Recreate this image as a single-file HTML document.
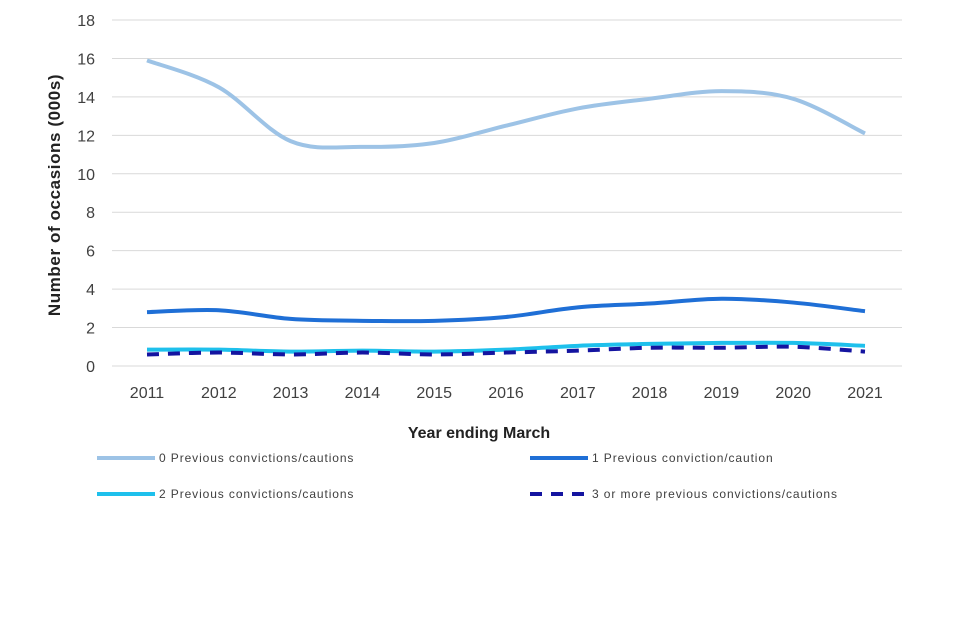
<!DOCTYPE html>
<html><head><meta charset="utf-8"><style>
body{margin:0;background:#fff;}
svg{display:block;font-family:"Liberation Sans",sans-serif;}
</style></head><body>
<svg id="c" width="960" height="640"></svg>
<script>
const years=["2011","2012","2013","2014","2015","2016","2017","2018","2019","2020","2021"];
const s0=[15.9,14.5,11.7,11.4,11.6,12.5,13.4,13.9,14.3,13.9,12.1];
const s1=[2.8,2.9,2.45,2.35,2.35,2.55,3.05,3.25,3.5,3.3,2.85];
const s2=[0.85,0.85,0.75,0.8,0.75,0.85,1.05,1.15,1.2,1.2,1.05];
const s3=[0.6,0.7,0.6,0.7,0.6,0.7,0.8,0.95,0.95,1.0,0.75];
const yTicks=[0,2,4,6,8,10,12,14,16,18];
const svg=document.getElementById('c');const NS='http://www.w3.org/2000/svg';
function mk(t,a,p){const e=document.createElementNS(NS,t);for(const k in a)e.setAttribute(k,a[k]);(p||svg).appendChild(e);return e;}
const x0=112,x1=902,yb=366,yt=20;
const X=i=>147+i*(865-147)/(years.length-1);
const Y=v=>yb-(v/18)*(yb-yt);
yTicks.forEach(t=>{
  const l=mk('line',{x1:x0,x2:x1,y1:Y(t),y2:Y(t),stroke:'#d9d9d9','stroke-width':1});
  
  
  const tx=mk('text',{x:95,y:Y(t)+6,'text-anchor':'end','font-size':16,fill:'#404040'});tx.textContent=t;
  
  
});
years.forEach((y,i)=>{
  const tx=mk('text',{x:X(i),y:398,'text-anchor':'middle','font-size':16,fill:'#404040'});tx.textContent=y;
  
  
});
function path(d){const p=d.map((v,i)=>[X(i),Y(v)]);let s='M'+p[0].join(',');
 for(let i=0;i<p.length-1;i++){const a=p[Math.max(0,i-1)],b=p[i],c=p[i+1],e=p[Math.min(p.length-1,i+2)];
  const c1=[b[0]+(c[0]-a[0])/6,b[1]+(c[1]-a[1])/6],c2=[c[0]-(e[0]-b[0])/6,c[1]-(e[1]-b[1])/6];
  s+=' C'+c1.join(',')+' '+c2.join(',')+' '+c.join(',');}return s;}
const series=[[s0,'#9dc3e6','',"series-0-previous"],[s1,'#1f6fd6','',"series-1-previous"],[s2,'#1ec0ec','',"series-2-previous"],[s3,'#1414a0','12,9',"series-3-or-more"]];
series.forEach(s=>{
  const p=mk('path',{d:path(s[0]),fill:'none',stroke:s[1],'stroke-width':4,'stroke-dasharray':s[2]});
  
  
});
const yt2=mk('text',{x:0,y:0,transform:'translate(60,195) rotate(-90)','text-anchor':'middle','font-size':17,'font-weight':'bold','letter-spacing':0.6,fill:'#222'});yt2.textContent='Number of occasions  (000s)';


const xt=mk('text',{x:479,y:438,'text-anchor':'middle','font-size':16,'font-weight':'bold',fill:'#222'});xt.textContent='Year ending March';


const leg=[[97,458,'#9dc3e6','','0 Previous convictions/cautions'],[530,458,'#1f6fd6','','1 Previous conviction/caution'],[97,494,'#1ec0ec','','2 Previous convictions/cautions'],[530,494,'#1414a0','12,9','3 or more previous convictions/cautions']];
leg.forEach(l=>{
  const g=mk('g',{});
  
  
  mk('line',{x1:l[0],x2:l[0]+58,y1:l[1],y2:l[1],stroke:l[2],'stroke-width':4,'stroke-dasharray':l[3]},g);
  const t=mk('text',{x:l[0]+62,y:l[1]+4,'font-size':12,'letter-spacing':0.9,fill:'#404040'},g);t.textContent=l[4];
});
</script>
</body></html>
